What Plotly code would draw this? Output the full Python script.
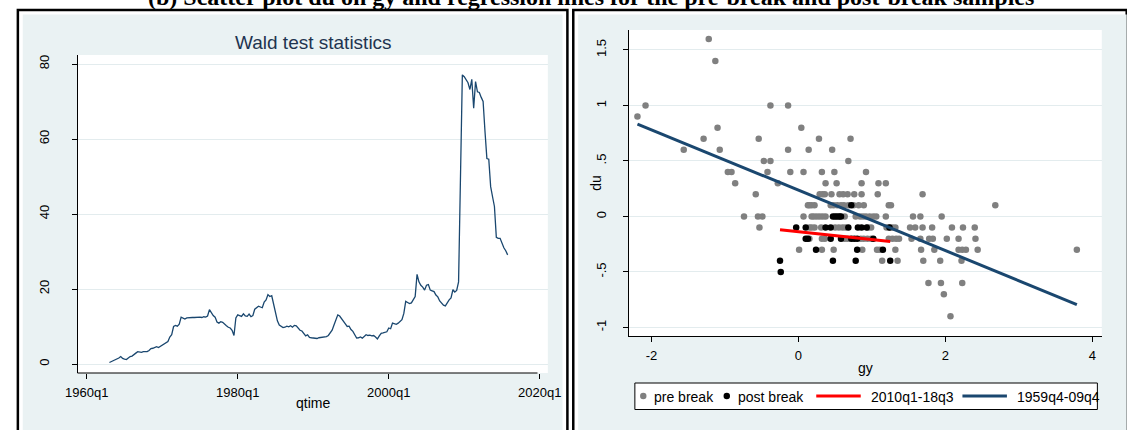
import plotly.graph_objects as go

W, H = 1127, 430

# ---------------- Wald test statistic, quarterly from 1963q1 to 2015q4 ----------------
first_quarter = 12  # quarters since 1960q1 (1963q1)
wald_stat = [
    0.4, 0.6, 0.8, 1.0,      # 1963
    1.2, 1.6, 2.0, 1.5,      # 1964
    1.3, 1.2, 1.6, 2.0,      # 1965
    2.1, 2.4, 2.9, 3.3,      # 1966
    3.2, 3.1, 3.3, 3.2,      # 1967
    3.3, 3.6, 4.1, 4.2,      # 1968
    4.3, 4.6, 4.4, 4.7,      # 1969
    5.0, 5.3, 5.5, 6.0,      # 1970
    7.2, 7.8, 10.0, 10.3,    # 1971
    10.1, 10.6, 12.5, 12.2,  # 1972
    12.0, 12.3, 12.4, 12.3,  # 1973
    12.4, 12.4, 12.5, 12.4,  # 1974
    12.5, 12.4, 12.6, 12.5,  # 1975
    12.8, 14.5, 13.6, 12.9,  # 1976
    12.5, 11.2, 10.9, 11.3,  # 1977
    11.1, 10.5, 10.2, 9.8,   # 1978
    9.6, 9.0, 7.6, 12.3,     # 1979
    13.1, 12.9, 12.7, 13.4,  # 1980
    12.8, 12.7, 13.3, 12.6,  # 1981
    12.9, 14.6, 14.9, 15.4,  # 1982
    15.2, 15.0, 16.5, 17.1,  # 1983
    18.5, 18.0, 18.2, 16.0,  # 1984
    13.6, 11.5, 10.4, 10.0,  # 1985
    9.7, 9.8, 10.1, 9.9,     # 1986
    10.2, 9.8, 10.3, 10.2,   # 1987
    9.6, 9.0, 8.8, 8.0,      # 1988
    7.5, 7.8, 7.1, 7.0,      # 1989
    6.9, 6.8, 6.8, 7.0,      # 1990
    7.1, 7.0, 7.2, 7.3,      # 1991
    7.6, 8.5, 9.0, 10.4,     # 1992
    12.0, 13.1, 12.8, 12.0,  # 1993
    11.2, 10.7, 10.0, 10.1,  # 1994
    9.2, 8.7, 7.8, 6.9,      # 1995
    7.0, 7.2, 6.9, 7.3,      # 1996
    7.8, 7.6, 7.7, 7.5,      # 1997
    7.6, 7.2, 6.7, 7.5,      # 1998
    8.2, 8.3, 8.5, 8.6,      # 1999
    9.6, 9.4, 10.9, 10.7,    # 2000
    10.6, 10.9, 11.5, 11.8,  # 2001
    13.5, 16.7, 16.4, 16.1,  # 2002
    16.3, 17.1, 18.0, 23.9,  # 2003
    21.9, 21.0, 20.5, 19.7,  # 2004
    21.0, 21.2, 19.7, 19.5,  # 2005
    19.3, 18.4, 17.9, 16.8,  # 2006
    16.3, 15.7, 15.5, 16.4,  # 2007
    17.1, 17.6, 19.8, 19.2,  # 2008
    19.6, 21.9, 49.5, 77.1,  # 2009
    76.6, 75.6, 75.0, 73.2,  # 2010
    75.9, 68.2, 75.3, 72.6,  # 2011
    72.4, 71.1, 70.0, 62.0,  # 2012
    54.8, 54.6, 47.3, 44.6,  # 2013
    42.0, 33.8, 33.5, 33.5,  # 2014
    32.0, 31.0, 30.2, 29.1,  # 2015
]
qtime = list(range(first_quarter, first_quarter + len(wald_stat)))
qtime_ticks = [0, 80, 160, 240]
qtime_labels = ["1960q1", "1980q1", "2000q1", "2020q1"]
wald_ticks = [0, 20, 40, 60, 80]

# ---------------- Scatter of du on gy (du value -> gy values) ----------------
pre_rows = {
    1.6: [-1.22],
    1.4: [-1.13],
    1.0: [-2.08, -0.38, -0.14],
    0.9: [-2.19],
    0.8: [-1.10, 0.04],
    0.7: [-1.29, -0.54, 0.28, 0.71],
    0.6: [-1.56, -1.07, -0.14, 0.14, 0.46],
    0.5: [-0.47, -0.38, 0.68],
    0.4: [-0.96, -0.91, -0.42, -0.11, 0.07, 0.32, 0.49, 0.92],
    0.3: [-0.86, -0.28, 0.37, 0.52, 0.86, 1.09, 1.19],
    0.2: [-0.58, 0.29, 0.33, 0.36, 0.45, 0.56, 0.61, 0.67, 0.76, 0.86, 1.08, 1.69],
    0.1: [0.13, 0.15, 0.18, 0.22, 0.44, 0.48, 0.53, 0.58, 0.62, 0.68, 0.75, 0.82, 0.89, 1.23, 1.26, 2.68],
    0.0: [-0.74, -0.55, -0.49, 0.07, 0.18, 0.21, 0.25, 0.29, 0.33, 0.37, 0.63, 0.78, 0.84, 0.88,
          0.92, 0.97, 1.02, 1.06, 1.19, 1.56, 1.66, 1.95],
    -0.1: [-0.53, 0.15, 0.18, 0.22, 0.31, 0.50, 0.55, 0.60, 0.64, 0.95, 0.99, 1.20, 1.24, 1.28,
           1.32, 1.52, 1.59, 1.69, 1.82, 2.09, 2.24, 2.40],
    -0.2: [0.15, 0.32, 0.36, 0.63, 0.67, 0.85, 0.89, 0.94, 0.99, 1.23, 1.28, 1.33, 1.37, 1.54,
           1.66, 1.78, 1.83, 2.02, 2.18, 2.41],
    -0.3: [0.01, 0.32, 0.48, 0.87, 1.07, 1.11, 1.32, 1.67, 1.85, 2.18, 2.23, 2.28, 2.44, 3.79],
    -0.4: [1.14, 1.35, 1.70, 1.93, 2.22],
    -0.6: [1.77, 1.94, 2.23],
    -0.7: [1.98],
    -0.9: [2.07],
}
post_rows = {
    0.1: [0.72],
    0.0: [0.47, 0.50, 0.53, 0.56, 0.58],
    -0.1: [-0.03, 0.10, 0.37, 0.44, 0.68, 0.81, 0.86, 0.93, 1.24],
    -0.2: [0.10, 0.13, 0.44, 0.58, 0.72, 0.76, 0.80, 1.02],
    -0.3: [0.24, 0.80, 1.15],
    -0.4: [-0.25, 0.47, 0.78, 1.25],
    -0.5: [-0.24],
}

# fitted lines du = a + b * gy over each sample's gy range
fit_pre = {"a": 0.237, "b": -0.272}     # 1959q4-09q4
fit_post = {"a": -0.137, "b": -0.0705}  # 2010q1-18q3

gy_ticks = [-2, 0, 2, 4]
du_ticks = [-1, -0.5, 0, 0.5, 1, 1.5]
du_labels = ["-1", "-.5", "0", ".5", "1", "1.5"]


def rows_to_xy(rows):
    xs, ys = [], []
    for du, gys in rows.items():
        for g in gys:
            xs.append(g)
            ys.append(du)
    return xs, ys


pre_gy, pre_du = rows_to_xy(pre_rows)
post_gy, post_du = rows_to_xy(post_rows)


def fit_line(fit, xs):
    lo, hi = min(xs), max(xs)
    return [lo, hi], [fit["a"] + fit["b"] * lo, fit["a"] + fit["b"] * hi]


pre_fx, pre_fy = fit_line(fit_pre, pre_gy)
post_fx, post_fy = fit_line(fit_post, post_gy)

NAVY = "#1a476f"
GRAY = "#808080"
RED = "#ff0000"
BG = "#eaf2f3"
GRID = "#e3ecee"
FONT = "Liberation Sans, Arial, sans-serif"
SERIF = "Liberation Serif, Times New Roman, serif"

fig = go.Figure()

fig.add_trace(go.Scatter(
    x=qtime, y=wald_stat, mode="lines", line=dict(color=NAVY, width=1.3),
    xaxis="x", yaxis="y", showlegend=False, hoverinfo="skip"))

series = [
    dict(name="pre break", kind="marker", color=GRAY, x=pre_gy, y=pre_du),
    dict(name="post break", kind="marker", color="#000000", x=post_gy, y=post_du),
    dict(name="2010q1-18q3", kind="line", color=RED, x=post_fx, y=post_fy),
    dict(name="1959q4-09q4", kind="line", color=NAVY, x=pre_fx, y=pre_fy),
]
for s in series:
    if s["kind"] == "marker":
        fig.add_trace(go.Scatter(x=s["x"], y=s["y"], mode="markers", name=s["name"],
                                 marker=dict(color=s["color"], size=6.5),
                                 xaxis="x2", yaxis="y2", showlegend=False))
    else:
        fig.add_trace(go.Scatter(x=s["x"], y=s["y"], mode="lines", name=s["name"],
                                 line=dict(color=s["color"], width=3),
                                 xaxis="x2", yaxis="y2", showlegend=False))


def px(x):
    return x / W


def py(y):
    return 1 - y / H


axis_common = dict(
    ticks="outside", ticklen=5, tickcolor="#000000", tickwidth=1,
    tickfont=dict(family=FONT, size=13, color="#000000"),
    zeroline=False,
)

fig.update_layout(
    width=W, height=H,
    margin=dict(l=0, r=0, t=0, b=0),
    paper_bgcolor="#ffffff",
    plot_bgcolor="rgba(0,0,0,0)",
    font=dict(family=FONT, size=13, color="#000000"),
    showlegend=False,
    xaxis=dict(domain=[px(67), px(548)], range=[-4.9, 244.3],
               tickvals=qtime_ticks, ticktext=qtime_labels, showgrid=False,
               showline=False, ticklabelstandoff=2, anchor="y", **axis_common),
    yaxis=dict(domain=[py(373), py(55)], range=[-2.4, 82.4],
               tickvals=wald_ticks, tickangle=-90, showgrid=True,
               gridcolor=GRID, gridwidth=1, showline=True, linecolor="#000000",
               linewidth=1, ticklabelstandoff=17, anchor="x", **axis_common),
    xaxis2=dict(domain=[px(631), px(1114.5)], range=[-2.305, 4.129],
                tickvals=gy_ticks, ticktext=[str(t) for t in gy_ticks],
                showgrid=False, showline=True, linecolor="#000000", linewidth=1,
                ticklabelstandoff=2, anchor="y2", **axis_common),
    yaxis2=dict(domain=[py(336), py(30)], range=[-1.077, 1.680],
                tickvals=du_ticks, ticktext=du_labels, tickangle=-90,
                showgrid=True, gridcolor=GRID, gridwidth=1, showline=True,
                linecolor="#000000", linewidth=1, ticklabelstandoff=12,
                anchor="x2", **axis_common),
)

shapes = []
# panel frames, region fills and white plot regions
for x0, x1 in [(6, 568), (574, 1140)]:
    shapes.append(dict(type="rect", xref="paper", yref="paper", layer="below",
                       x0=px(x0), x1=px(x1), y0=py(440), y1=py(10),
                       line=dict(color="#000000", width=2.5), fillcolor="#ffffff"))
for x0, x1 in [(11, 563), (579, 1140)]:
    shapes.append(dict(type="rect", xref="paper", yref="paper", layer="below",
                       x0=px(x0), x1=px(x1), y0=py(440), y1=py(14.5),
                       line=dict(width=0), fillcolor=BG))
for xr, yr in [("x", "y"), ("x2", "y2")]:
    shapes.append(dict(type="rect", xref=f"{xr} domain", yref=f"{yr} domain",
                       layer="below", x0=0, x1=1, y0=0, y1=1,
                       line=dict(width=0), fillcolor="#ffffff"))
# time axis line stops a little short of the plot region's right edge
shapes.append(dict(type="line", xref="x domain", yref="y domain", x0=0, x1=0.978,
                   y0=0, y1=0, line=dict(color="#000000", width=1)))

# legend box for the scatter panel
lg_top, lg_bot, lg_mid = 383, 409.5, 396
shapes.append(dict(type="rect", xref="paper", yref="paper",
                   x0=px(637), x1=px(1110), y0=py(lg_bot), y1=py(lg_top),
                   line=dict(color="#000000", width=1), fillcolor="#ffffff"))
key_x = [645.6, 731.0, (822.5, 868.0), (972.0, 1017.5)]
text_x = [654.6, 740.6, 876.0, 1025.6]
annotations = []
for s, kx, tx in zip(series, key_x, text_x):
    if s["kind"] == "marker":
        r = 3.3
        shapes.append(dict(type="circle", xref="paper", yref="paper",
                           x0=px(kx - r), x1=px(kx + r), y0=py(lg_mid + r), y1=py(lg_mid - r),
                           line=dict(width=0), fillcolor=s["color"]))
    else:
        shapes.append(dict(type="line", xref="paper", yref="paper",
                           x0=px(kx[0]), x1=px(kx[1]), y0=py(lg_mid), y1=py(lg_mid),
                           line=dict(color=s["color"], width=3)))
    annotations.append(dict(text=s["name"], x=px(tx), y=py(lg_mid + 0.5), xref="paper",
                            yref="paper", showarrow=False, xanchor="left",
                            yanchor="middle",
                            font=dict(family=FONT, size=14, color="#000000")))
fig.update_layout(shapes=shapes)

annotations += [
    dict(text="Wald test statistics", x=px(308), y=py(42), xref="paper", yref="paper",
         showarrow=False, xanchor="center", yanchor="middle",
         font=dict(family=FONT, size=19, color="#1e3450")),
    dict(text="qtime", x=px(308), y=py(403), xref="paper", yref="paper",
         showarrow=False, xanchor="center", yanchor="middle",
         font=dict(family=FONT, size=14, color="#000000")),
    dict(text="gy", x=px(873), y=py(368), xref="paper", yref="paper",
         showarrow=False, xanchor="center", yanchor="middle",
         font=dict(family=FONT, size=14, color="#000000")),
    dict(text="du", x=px(597), y=py(183), xref="paper", yref="paper",
         showarrow=False, xanchor="center", yanchor="middle", textangle=-90,
         font=dict(family=FONT, size=14, color="#000000")),
    dict(text="<b>(b) Scatter plot du on gy and regression lines for the pre-break and post-break samples</b>",
         x=px(592), y=py(-2.5), xref="paper", yref="paper",
         showarrow=False, xanchor="center", yanchor="middle",
         font=dict(family=SERIF, size=24, color="#000000")),
]
fig.update_layout(annotations=annotations)

fig.write_html("out.html")
